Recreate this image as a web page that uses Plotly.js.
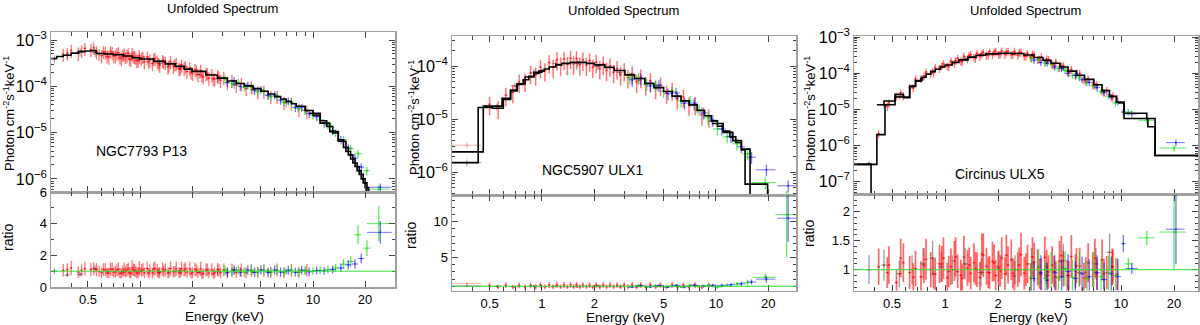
<!DOCTYPE html>
<html><head><meta charset="utf-8">
<script src="https://cdn.plot.ly/plotly-3.0.1.min.js"></script>
<style>html,body{margin:0;padding:0;background:#fff}#chart{width:1200px;height:325px}</style>
</head><body><div id="chart"></div>
<script>
// ---------------- tick labels ----------------
const xTickVals = [0.5, 1, 2, 5, 10, 20];
const xTickText = ['0.5', '1', '2', '5', '10', '20'];
const xMinorVals = [0.3, 0.4, 0.6, 0.7, 0.8, 0.9, 3, 4, 6, 7, 8, 9, 30];
const titles = ['Unfolded Spectrum', 'Unfolded Spectrum', 'Unfolded Spectrum'];
const sources = ['NGC7793 P13', 'NGC5907 ULX1', 'Circinus ULX5'];
const yTitleTop = 'Photon cm<sup>-2</sup>s<sup>-1</sup>keV<sup>-1</sup>';
const yTitleBottom = 'ratio';
const xTitle = 'Energy (keV)';
const p1RatioTicks = [0, 2, 4, 6];
const p2RatioTicks = [5, 10];
const p3RatioTicks = [1, 1.5, 2];

// ---------------- Panel 1 : NGC7793 P13 ----------------
const p1ModelE = [0.30,0.33,0.36,0.40,0.44,0.48,0.52,0.56,0.62,0.70,0.80,0.90,1.0,1.2,1.4,1.6,1.8,2.0,2.4,2.8,3.2,3.6,4.0,4.5,5.0,5.5,6.0,6.5,7.0,7.5,8.0,9.0,10,11,12,13,14,15,16,17,18,19,20,21];
const p1ModelF = [4.0e-4,4.4e-4,4.7e-4,5.2e-4,5.6e-4,5.8e-4,5.9e-4,5.1e-4,5.0e-4,4.8e-4,4.5e-4,4.15e-4,3.9e-4,3.45e-4,3.05e-4,2.7e-4,2.35e-4,2.1e-4,1.75e-4,1.5e-4,1.3e-4,1.15e-4,1.02e-4,8.9e-5,7.8e-5,6.8e-5,6.0e-5,5.3e-5,4.7e-5,4.2e-5,3.7e-5,3.0e-5,2.35e-5,1.8e-5,1.35e-5,9.8e-6,7.0e-6,4.8e-6,3.3e-6,2.2e-6,1.5e-6,1.0e-6,6.5e-7,4.5e-7];
const p1Model2E = [9.5,11,12.5,14,15.5,16.5,17.5,18.5,19.5,20.5];
const p1Model2F = [2.6e-5,1.6e-5,1.05e-5,6.5e-6,3.9e-6,2.7e-6,1.85e-6,1.25e-6,8.2e-7,4e-7];

const p1RedE = [0.36,0.40,0.44,0.48,0.52,0.56,0.60,0.63,0.66,0.69,0.72,0.75,0.78,0.81,0.84,0.87,0.90,0.93,0.96,0.99,1.02,1.06,1.10,1.14,1.18,1.22,1.26,1.30,1.35,1.40,1.45,1.50,1.56,1.62,1.68,1.74,1.80,1.87,1.94,2.01,2.08,2.16,2.24,2.32,2.41,2.50,2.60,2.70,2.81,2.92,3.05,3.2,3.4,3.6,3.85,4.1,4.4,4.8,5.2,5.7,6.2,6.8,7.5,8.3,9.2];
const p1RedF = [4.9e-4,6.0e-4,5.2e-4,6.6e-4,6.2e-4,5.6e-4,4.6e-4,5.5e-4,4.3e-4,5.4e-4,4.6e-4,5.3e-4,4.0e-4,5.0e-4,4.6e-4,3.9e-4,5.1e-4,4.4e-4,3.6e-4,4.6e-4,4.1e-4,3.4e-4,4.3e-4,3.7e-4,3.1e-4,4.0e-4,3.5e-4,2.9e-4,3.6e-4,3.3e-4,2.6e-4,3.4e-4,2.7e-4,3.1e-4,2.4e-4,2.9e-4,2.5e-4,2.1e-4,2.5e-4,1.9e-4,2.3e-4,1.8e-4,2.2e-4,1.6e-4,1.9e-4,1.5e-4,1.8e-4,1.45e-4,1.7e-4,1.35e-4,1.55e-4,1.2e-4,1.35e-4,1.05e-4,1.15e-4,9.0e-5,9.8e-5,7.6e-5,7.8e-5,6.0e-5,6.1e-5,4.5e-5,4.4e-5,3.2e-5,2.9e-5];
const p1RedR = [1.05,1.2,0.95,1.15,1.1,1.1,0.9,1.1,0.88,1.12,0.95,1.13,0.87,1.12,1.05,0.92,1.22,1.07,0.9,1.18,1.06,0.9,1.17,1.04,0.88,1.17,1.05,0.9,1.14,1.08,0.88,1.17,0.96,1.15,0.92,1.16,1.06,0.93,1.16,0.9,1.12,0.92,1.16,0.86,1.09,0.88,1.09,0.9,1.1,0.9,1.07,0.89,1.08,0.91,1.07,0.9,1.06,0.93,1.05,0.94,1.07,0.9,1.05,0.94,1.04];
const p1Red2E = [0.38,0.46,0.54,0.58,0.615,0.645,0.675,0.705,0.735,0.765,0.795,0.825,0.855,0.885,0.915,0.945,0.975,1.04,1.12,1.20,1.28,1.37,1.47,1.59,1.71,1.83,1.97,2.12,2.28,2.45,2.65,2.86];
const p1Red2F = [5.2e-4,5.9e-4,6.8e-4,5.0e-4,5.6e-4,4.4e-4,5.7e-4,4.5e-4,5.2e-4,4.2e-4,4.8e-4,4.3e-4,5.2e-4,3.8e-4,4.5e-4,4.1e-4,3.6e-4,4.3e-4,3.4e-4,3.9e-4,3.1e-4,3.4e-4,2.8e-4,3.0e-4,2.4e-4,2.7e-4,2.0e-4,2.2e-4,1.7e-4,1.9e-4,1.45e-4,1.6e-4];
const p1Red2R = [1.1,1.05,1.15,0.98,1.1,0.88,1.14,0.94,1.08,0.87,1.0,0.96,1.15,0.85,1.08,0.99,0.87,1.1,0.88,1.13,0.9,0.99,0.92,0.98,0.89,1.15,0.85,1.05,0.81,1.08,0.83,1.07];

const p1BlkE = [0.32,0.38,0.45,0.55,0.65,0.8,1.0,1.3,1.7,2.2,2.8,3.5,4.5,5.5,7,9];
const p1BlkF = [3.9e-4,4.7e-4,5.5e-4,5.4e-4,5.0e-4,4.4e-4,3.8e-4,3.1e-4,2.4e-4,1.8e-4,1.45e-4,1.1e-4,8.5e-5,6.5e-5,4.4e-5,3.0e-5];
const p1BlkR = [1.0,0.75,0.8,1.15,1.0,0.95,1.0,0.95,1.02,0.92,0.97,1.05,0.95,1.0,0.98,1.03];

const p1GrnE = [3.1,3.4,3.7,4.0,4.4,4.8,5.2,5.7,6.2,6.8,7.5,8.2,9.0,10,11,12.2,13.5,15,16.5,18.2,20.5,24];
const p1GrnF = [1.45e-4,1.15e-4,1.2e-4,9.5e-5,9.8e-5,7.8e-5,7.9e-5,6.0e-5,6.1e-5,4.6e-5,4.5e-5,3.3e-5,3.1e-5,2.4e-5,1.9e-5,1.45e-5,1.0e-5,7.0e-6,4.5e-6,3.5e-6,1.5e-6,6.0e-7];
const p1GrnR = [1.05,0.95,1.08,0.93,1.07,0.95,1.06,0.92,1.05,0.93,1.07,0.92,1.03,1.0,1.05,1.1,1.2,1.45,1.6,3.3,2.45,4.0];
const p1GrnRerr = [0.3,0.3,0.3,0.3,0.3,0.3,0.3,0.3,0.3,0.3,0.28,0.28,0.28,0.25,0.25,0.25,0.25,0.3,0.35,0.6,0.5,1.1];
const p1GrnXerr = [0.1,0.1,0.1,0.15,0.15,0.2,0.2,0.2,0.25,0.3,0.3,0.35,0.4,0.5,0.5,0.6,0.7,0.8,0.8,0.9,1.0,3.5];

const p1BluE = [3.2,3.5,3.8,4.2,4.6,5.0,5.5,6.0,6.5,7.2,7.9,8.6,9.5,10.5,11.6,13,14.5,16,17.5,19,24.5];
const p1BluF = [1.2e-4,1.3e-4,1.0e-4,1.05e-4,8.2e-5,8.4e-5,6.3e-5,6.5e-5,5.0e-5,4.8e-5,3.5e-5,3.5e-5,2.6e-5,2.2e-5,1.6e-5,1.1e-5,7e-6,4.6e-6,2.8e-6,1.8e-6,6.6e-7];
const p1BluR = [0.92,1.08,0.93,1.07,0.93,1.08,0.92,1.08,0.94,1.06,0.93,1.07,0.96,1.04,1.02,1.1,1.2,1.4,1.45,1.8,3.45];
const p1BluRerr = [0.3,0.3,0.3,0.3,0.3,0.3,0.3,0.3,0.3,0.28,0.28,0.28,0.28,0.25,0.25,0.25,0.25,0.3,0.3,0.3,0.7];
const p1BluXerr = [0.1,0.1,0.1,0.15,0.15,0.2,0.2,0.2,0.25,0.3,0.3,0.35,0.4,0.5,0.5,0.6,0.7,0.7,0.7,0.8,4.0];

// ---------------- Panel 2 : NGC5907 ULX1 ----------------
const p2ModelE = [0.30,0.46,0.59,0.66,0.72,0.78,0.84,0.90,0.96,1.03,1.1,1.2,1.3,1.45,1.6,1.8,2.0,2.3,2.6,3.0,3.4,3.9,4.4,5.0,5.6,6.3,7.0,7.8,8.6,9.4,10.2,11,12,13,14,14.7,19.8];
const p2ModelF = [2.4e-6,1.75e-5,2.45e-5,3.5e-5,4.5e-5,5.5e-5,6.4e-5,7.2e-5,8.0e-5,8.8e-5,9.6e-5,1.05e-4,1.12e-4,1.17e-4,1.17e-4,1.12e-4,1.05e-4,9.4e-5,8.2e-5,6.8e-5,5.8e-5,4.7e-5,3.9e-5,3.3e-5,2.7e-5,2.2e-5,1.85e-5,1.45e-5,1.15e-5,9.2e-6,7.3e-6,5.9e-6,4.6e-6,3.6e-6,2.6e-6,5.9e-7,2e-7];
const p2Model2E = [0.30,0.43,0.52,0.60,0.66,0.72,0.80,0.90,1.0,1.05,9.5,11,12.5,14,15.7];
const p2Model2F = [1.5e-6,1.65e-5,1.6e-5,2.35e-5,3.4e-5,4.6e-5,6.2e-5,7.6e-5,8.6e-5,null,8.2e-6,5.6e-6,3.9e-6,2.7e-6,2e-7];

const p2PinkE = [0.37];
const p2PinkF = [3.2e-6];
const p2PinkR = [1.38];
const p2PinkXerr = [0.08];

const p2RedE = [0.50,0.56,0.62,0.68,0.74,0.80,0.86,0.92,0.98,1.04,1.10,1.16,1.22,1.28,1.34,1.40,1.46,1.52,1.58,1.65,1.72,1.80,1.88,1.96,2.05,2.15,2.25,2.35,2.46,2.58,2.70,2.83,2.97,3.12,3.3,3.5,3.7,3.95,4.2,4.5,4.8,5.2,5.6,6.0,6.5,7.0,7.6,8.3,9.1];
const p2RedF = [1.9e-5,1.6e-5,2.8e-5,3.2e-5,5.0e-5,5.2e-5,7.3e-5,6.8e-5,9.5e-5,8.2e-5,1.15e-4,9.6e-5,1.32e-4,1.05e-4,1.35e-4,1.08e-4,1.4e-4,1.1e-4,1.38e-4,1.06e-4,1.3e-4,1.04e-4,1.25e-4,9.6e-5,1.18e-4,9.0e-5,1.1e-4,8.3e-5,1.0e-4,7.6e-5,9.0e-5,6.9e-5,8.2e-5,6.1e-5,7.2e-5,5.0e-5,6.2e-5,4.5e-5,5.3e-5,3.8e-5,4.4e-5,3.1e-5,3.5e-5,2.4e-5,2.6e-5,1.85e-5,1.9e-5,1.2e-5,1.1e-5];
const p2RedR = [1.1,0.9,1.15,0.9,1.1,0.93,1.12,0.92,1.16,0.92,1.18,0.92,1.2,0.93,1.18,0.93,1.2,0.94,1.19,0.92,1.15,0.94,1.16,0.91,1.16,0.92,1.17,0.92,1.16,0.93,1.15,0.93,1.17,0.92,1.18,0.88,1.17,0.92,1.18,0.93,1.16,0.91,1.17,0.92,1.13,0.93,1.15,0.92,1.1];

const p2BlkE = [0.37,0.55,0.7,0.9,1.2,1.6,2.1,2.8,3.6,4.6,6.0,7.8,9.5];
const p2BlkF = [1.5e-6,1.7e-5,4.2e-5,7.6e-5,1.12e-4,1.12e-4,9.8e-5,7.5e-5,5.4e-5,4.0e-5,2.6e-5,1.5e-5,9e-6];
const p2BlkR = [1.05,1.0,0.95,1.02,1.0,0.97,1.05,0.98,1.02,0.97,1.03,0.99,1.0];
const p2BlkXerr = [0.08,0.03,0.04,0.05,0.06,0.08,0.1,0.12,0.15,0.2,0.25,0.35,0.4];

const p2GrnE = [3.2,3.6,4.0,4.5,5.0,5.6,6.3,7.1,8.0,9.0,10.2,11.6,13.2,15.2,19.2,25.5];
const p2GrnF = [6.0e-5,5.9e-5,4.5e-5,4.4e-5,3.3e-5,3.3e-5,2.2e-5,2.2e-5,1.5e-5,1.05e-5,6.5e-6,4.6e-6,3.4e-6,2.2e-6,6.3e-7,3.5e-7];
const p2GrnR = [0.95,1.1,0.92,1.08,0.93,1.1,0.9,1.12,1.0,1.1,0.9,1.15,1.3,1.5,2.25,11];
const p2GrnRerr = [0.15,0.15,0.15,0.15,0.15,0.18,0.18,0.2,0.2,0.2,0.25,0.25,0.3,0.4,0.5,6];
const p2GrnXerr = [0.15,0.2,0.2,0.25,0.25,0.3,0.35,0.4,0.45,0.5,0.6,0.7,0.8,1.0,3.0,3.5];

const p2BluE = [3.3,3.7,4.2,4.7,5.3,5.9,6.6,7.5,8.5,9.6,10.8,12.2,14.0,16.0,19.5,26];
const p2BluF = [5.5e-5,5.8e-5,4.2e-5,4.3e-5,3.0e-5,3.1e-5,2.0e-5,2.0e-5,1.3e-5,9.5e-6,6.5e-6,4.7e-6,3.0e-6,1.9e-6,1.1e-6,5.5e-7];
const p2BluR = [0.9,1.08,0.92,1.1,0.9,1.12,0.92,1.15,1.0,1.15,1.1,1.2,1.35,1.6,2.0,10.5];
const p2BluRerr = [0.15,0.15,0.15,0.15,0.15,0.18,0.18,0.2,0.2,0.2,0.25,0.25,0.3,0.35,0.5,3.3];
const p2BluXerr = [0.15,0.2,0.2,0.25,0.25,0.3,0.35,0.4,0.45,0.5,0.6,0.7,0.8,1.0,2.5,3.5];

// ---------------- Panel 3 : Circinus ULX5 ----------------
const p3ModelE = [0.30,0.41,0.456,0.52,0.58,0.63,0.68,0.74,0.78,0.83,0.88,0.94,1.0,1.1,1.2,1.35,1.5,1.7,2.0,2.4,2.8,3.2,3.6,4.0,4.5,5.0,5.6,6.2,7.0,7.8,8.6,9.4,10.4,14.0,15.6,30];
const p3ModelF = [3e-7,2e-6,1.35e-5,2.6e-5,2.1e-5,4.4e-5,6.3e-5,7.8e-5,9.5e-5,1.1e-4,1.3e-4,1.5e-4,1.7e-4,2.0e-4,2.35e-4,2.8e-4,3.15e-4,3.45e-4,3.6e-4,3.55e-4,3.2e-4,2.75e-4,2.3e-4,1.9e-4,1.5e-4,1.15e-4,8.8e-5,6.8e-5,4.8e-5,3.3e-5,2.3e-5,1.6e-5,7.8e-6,5.6e-6,5.3e-7,5.3e-7];
const p3Model2E = [0.30,0.38,0.40,0.41,0.45,0.52,0.58,0.63,0.68,0.73,0.76,9.6,10.4,14.2,15.6,30];
const p3Model2F = [3e-7,1e-9,null,1.35e-5,1.7e-5,2.2e-5,2.2e-5,4.3e-5,6.0e-5,7.5e-5,null,1.5e-5,5.6e-6,3.3e-6,5.3e-7,5.3e-7];

const p3RedE = [0.42,0.48,0.53,0.58,0.63,0.68,0.73,0.78,0.83,0.88,0.93,0.98,1.03,1.08,1.13,1.18,1.23,1.28,1.34,1.40,1.46,1.52,1.58,1.65,1.72,1.79,1.86,1.94,2.02,2.10,2.19,2.28,2.38,2.48,2.59,2.70,2.82,2.94,3.07,3.21,3.36,3.52,3.69,3.87,4.06,4.26,4.47,4.70,4.95,5.22,5.51,5.82,6.15,6.5,6.9,7.3,7.8,8.3,8.9,9.5];
const p3RedF = [2.1e-6,1.5e-5,2.3e-5,2.4e-5,4.0e-5,7.0e-5,7.2e-5,1.08e-4,1.0e-4,1.45e-4,1.35e-4,1.85e-4,1.6e-4,2.2e-4,1.9e-4,2.6e-4,2.2e-4,2.95e-4,2.5e-4,3.3e-4,2.8e-4,3.6e-4,2.95e-4,3.8e-4,3.15e-4,3.95e-4,3.25e-4,4.1e-4,3.3e-4,4.15e-4,3.3e-4,4.1e-4,3.25e-4,4.05e-4,3.1e-4,3.85e-4,2.95e-4,3.6e-4,2.7e-4,3.25e-4,2.4e-4,2.85e-4,2.1e-4,2.45e-4,1.75e-4,2.05e-4,1.45e-4,1.65e-4,1.15e-4,1.3e-4,8.8e-5,9.8e-5,6.6e-5,7.2e-5,4.8e-5,5.0e-5,3.3e-5,3.4e-5,2.1e-5,2.0e-5];
const p3RedR = [1.05,1.08,0.78,1.12,0.95,1.02,0.88,1.18,1.0,0.92,1.1,1.2,0.86,1.05,1.15,0.97,0.9,1.22,1.03,0.94,1.12,1.0,0.87,1.25,1.06,0.95,1.14,0.9,1.02,1.2,0.93,1.08,1.17,0.89,1.0,1.26,0.94,1.1,0.85,1.13,1.04,0.92,1.21,0.96,1.08,0.88,1.15,1.02,0.9,1.23,0.97,1.06,0.86,1.12,1.0,0.93,1.17,0.95,1.05,0.92];
const p3Red2E = [0.47,0.56,0.66,0.76,0.86,0.96,1.05,1.15,1.25,1.37,1.49,1.62,1.76,1.90,2.06,2.23,2.43,2.64,2.88,3.14,3.44,3.78,4.16,4.58,5.05,5.58,6.3,7.1,8.0,9.0];
const p3Red2F = [1.2e-5,2.9e-5,3.9e-5,8.4e-5,1.02e-4,1.62e-4,1.55e-4,2.25e-4,2.1e-4,3.1e-4,2.6e-4,3.5e-4,3.2e-4,3.9e-4,3.4e-4,3.95e-4,3.3e-4,3.8e-4,3.0e-4,3.4e-4,2.45e-4,2.5e-4,1.65e-4,1.6e-4,1.05e-4,1.0e-4,6.0e-5,4.7e-5,2.9e-5,2.4e-5];
const p3Red2R = [0.95,1.2,0.87,1.07,0.93,1.1,0.97,1.22,0.85,1.08,1.02,1.27,0.95,1.12,0.98,1.25,0.94,1.08,1.0,1.22,0.93,1.05,0.97,1.24,0.9,1.07,0.95,1.2,0.93,1.05];

const p3BlkE = [0.37,0.45,0.55,0.65,0.75,0.85,0.95,1.1,1.3,1.6,2.0,2.5,3.1,3.8,4.7,5.8,7.2,8.6];
const p3BlkF = [3.2e-7,1.3e-5,2.2e-5,4.2e-5,7.5e-5,1.2e-4,1.5e-4,2.0e-4,2.6e-4,3.3e-4,3.5e-4,3.5e-4,2.9e-4,2.1e-4,1.4e-4,8.5e-5,4.6e-5,2.5e-5];
const p3BlkR = [1.0,1.08,0.93,1.0,1.1,1.2,1.05,1.0,1.1,0.95,1.05,1.0,1.1,0.9,1.15,0.95,1.1,1.3];

const p3GrnE = [3.1,3.4,3.7,4.0,4.4,4.8,5.3,5.8,6.4,7.0,7.7,8.5,9.3,11.0,14.0,20.0];
const p3GrnF = [2.5e-4,2.4e-4,1.9e-4,1.8e-4,1.35e-4,1.2e-4,8.8e-5,7.4e-5,5.5e-5,4.5e-5,3.1e-5,2.3e-5,1.5e-5,8.5e-6,5.0e-6,8.5e-7];
const p3GrnR = [0.88,1.05,0.85,1.0,0.86,1.02,0.87,1.0,0.85,1.0,0.88,0.95,0.9,1.1,1.55,1.65];
const p3GrnRerr = [0.3,0.3,0.3,0.3,0.3,0.3,0.3,0.3,0.3,0.3,0.3,0.3,0.3,0.1,0.12,0.65];
const p3GrnXerr = [0.1,0.1,0.1,0.15,0.15,0.2,0.2,0.25,0.25,0.3,0.35,0.35,0.4,0.6,1.5,3.5];

const p3BluE = [3.2,3.5,3.8,4.2,4.6,5.0,5.5,6.0,6.6,7.3,8.0,8.8,9.6,10.3,11.5,20.5];
const p3BluF = [2.3e-4,2.0e-4,1.9e-4,1.5e-4,1.35e-4,1.0e-4,8.8e-5,6.6e-5,5.6e-5,4.0e-5,3.0e-5,2.2e-5,1.6e-5,8.5e-6,7.5e-6,1.2e-6];
const p3BluR = [0.85,0.95,0.82,0.95,0.88,0.97,0.85,0.93,0.88,0.95,0.83,0.93,0.88,1.45,1.02,1.7];
const p3BluRerr = [0.3,0.3,0.3,0.3,0.3,0.3,0.3,0.3,0.3,0.3,0.3,0.3,0.3,0.15,0.1,0.6];
const p3BluXerr = [0.1,0.1,0.1,0.15,0.15,0.2,0.2,0.25,0.25,0.3,0.35,0.35,0.4,0.3,0.9,2.5];

// ---------------- styling ----------------
const FONT = 'Liberation Sans, Arial, Helvetica, sans-serif';
const RED = 'rgba(255,0,0,0.55)';
const RED3 = 'rgba(255,0,0,0.6)';
const BLK = 'rgba(30,30,30,0.45)';
const GRN = 'rgba(0,225,0,0.65)';
const BLU = 'rgba(0,0,255,0.55)';
const PINK = 'rgba(255,90,90,0.45)';

function errObj(e, col, th) {
  if (Array.isArray(e)) return {type: 'data', array: e, symmetric: true, color: col, thickness: th, width: 0};
  return {type: 'percent', value: e, color: col, thickness: th, width: 0};
}
function pts(E, V, xa, ya, col, yErr, xErr, th) {
  const t = th || 1;
  return {type: 'scatter', mode: 'markers', x: E, y: V, xaxis: xa, yaxis: ya,
    hoverinfo: 'skip', showlegend: false, cliponaxis: true,
    marker: {size: 2, color: col},
    error_y: errObj(yErr, col, t), error_x: errObj(xErr, col, 1)};
}
function model(E, F, xa, ya) {
  return {type: 'scatter', mode: 'lines', x: E, y: F, xaxis: xa, yaxis: ya,
    hoverinfo: 'skip', showlegend: false, connectgaps: false,
    line: {shape: 'hv', color: '#000', width: 1.6}};
}

const traces = [
  // panel 1 upper
  pts(p1BlkE, p1BlkF, 'x', 'y', BLK, 20, 4),
  pts(p1RedE, p1RedF, 'x', 'y', RED, 32, 2, 1.3),
  pts(p1Red2E, p1Red2F, 'x', 'y', RED, 30, 2, 1.3),
  pts(p1GrnE, p1GrnF, 'x', 'y', GRN, 20, p1GrnXerr, 1.3),
  pts(p1BluE, p1BluF, 'x', 'y', BLU, 20, p1BluXerr, 1.3),
  model(p1ModelE, p1ModelF, 'x', 'y'),
  model(p1Model2E, p1Model2F, 'x', 'y'),
  // panel 1 lower
  pts(p1BlkE, p1BlkR, 'x2', 'y2', BLK, 20, 4),
  pts(p1RedE, p1RedR, 'x2', 'y2', RED, 38, 2, 1.3),
  pts(p1Red2E, p1Red2R, 'x2', 'y2', RED, 36, 2, 1.3),
  pts(p1GrnE, p1GrnR, 'x2', 'y2', GRN, p1GrnRerr, p1GrnXerr, 1.3),
  pts(p1BluE, p1BluR, 'x2', 'y2', BLU, p1BluRerr, p1BluXerr, 1.3),
  // panel 2 upper
  pts(p2PinkE, p2PinkF, 'x3', 'y3', PINK, 15, p2PinkXerr),
  pts(p2BlkE, p2BlkF, 'x3', 'y3', BLK, 15, p2BlkXerr),
  pts(p2RedE, p2RedF, 'x3', 'y3', RED, 38, 2, 1.5),
  pts(p2GrnE, p2GrnF, 'x3', 'y3', GRN, 25, p2GrnXerr, 1.3),
  pts(p2BluE, p2BluF, 'x3', 'y3', BLU, 25, p2BluXerr, 1.3),
  model(p2ModelE, p2ModelF, 'x3', 'y3'),
  model(p2Model2E, p2Model2F, 'x3', 'y3'),
  // panel 2 lower
  pts(p2PinkE, p2PinkR, 'x4', 'y4', PINK, 12, p2PinkXerr),
  pts(p2BlkE, p2BlkR, 'x4', 'y4', BLK, 15, p2BlkXerr),
  pts(p2RedE, p2RedR, 'x4', 'y4', RED, 35, 2, 1.5),
  pts(p2GrnE, p2GrnR, 'x4', 'y4', GRN, p2GrnRerr, p2GrnXerr, 1.3),
  pts(p2BluE, p2BluR, 'x4', 'y4', BLU, p2BluRerr, p2BluXerr, 1.3),
  // panel 3 upper
  pts(p3BlkE, p3BlkF, 'x5', 'y5', BLK, 15, 4),
  pts(p3RedE, p3RedF, 'x5', 'y5', RED, 25, 2, 1.3),
  pts(p3Red2E, p3Red2F, 'x5', 'y5', RED, 25, 2, 1.3),
  pts(p3GrnE, p3GrnF, 'x5', 'y5', GRN, 20, p3GrnXerr, 1.3),
  pts(p3BluE, p3BluF, 'x5', 'y5', BLU, 20, p3BluXerr, 1.3),
  model(p3ModelE, p3ModelF, 'x5', 'y5'),
  model(p3Model2E, p3Model2F, 'x5', 'y5'),
  // panel 3 lower
  pts(p3BlkE, p3BlkR, 'x6', 'y6', BLK, 25, 4, 1.3),
  pts(p3RedE, p3RedR, 'x6', 'y6', RED3, 30, 2, 1.7),
  pts(p3Red2E, p3Red2R, 'x6', 'y6', RED3, 28, 2, 1.7),
  pts(p3GrnE, p3GrnR, 'x6', 'y6', GRN, p3GrnRerr, p3GrnXerr, 1.3),
  pts(p3BluE, p3BluR, 'x6', 'y6', BLU, p3BluRerr, p3BluXerr, 1.3)
];

// ---------------- layout ----------------
const W = 1200, H = 325;
const px = v => v / W;
const py = v => 1 - v / H;

const axBase = {
  showline: true, linecolor: '#a0a0a0', linewidth: 1.5, mirror: 'allticks',
  ticks: 'inside', tickcolor: '#444', ticklen: 6, tickwidth: 1,
  showgrid: false, zeroline: false, fixedrange: true,
  tickfont: {family: FONT, size: 13, color: '#000'}
};
function xAx(dom, rng, anchor, labels) {
  return Object.assign({}, axBase, {
    type: 'log', domain: dom, range: rng, anchor: anchor,
    tickmode: 'array', tickvals: xTickVals, ticktext: xTickText,
    showticklabels: labels,
    minor: {tickmode: 'array', tickvals: xMinorVals, ticklen: 4, tickcolor: '#444', ticks: 'inside'}
  });
}
function yLog(dom, rng, anchor) {
  return Object.assign({}, axBase, {
    type: 'log', domain: dom, range: rng, anchor: anchor,
    dtick: 1, exponentformat: 'power',
    minor: {dtick: 'D1', ticklen: 3, tickcolor: '#444', ticks: 'inside'}
  });
}
function yLin(dom, rng, anchor, tv, minorStep) {
  return Object.assign({}, axBase, {
    domain: dom, range: rng, anchor: anchor,
    tickmode: 'array', tickvals: tv,
    minor: {dtick: minorStep, ticklen: 3, tickcolor: '#444', ticks: 'inside'}
  });
}

const xd1 = [px(51), px(395)], xd2 = [px(452), px(796)], xd3 = [px(854), px(1198)];

function ann(text, x, y, size, angle) {
  return {text: text, x: px(x), y: py(y), xref: 'paper', yref: 'paper',
    showarrow: false, xanchor: 'center', yanchor: 'middle', textangle: angle || 0,
    font: {family: FONT, size: size, color: '#000'}};
}

const layout = {
  width: W, height: H, margin: {l: 0, r: 0, t: 0, b: 0},
  paper_bgcolor: '#fff', plot_bgcolor: '#fff', showlegend: false,
  font: {family: FONT, size: 13, color: '#000'},
  xaxis:  xAx(xd1, [-0.5145, 1.474], 'y', false),
  xaxis2: xAx(xd1, [-0.5145, 1.474], 'y2', true),
  xaxis3: xAx(xd2, [-0.517, 1.46], 'y3', false),
  xaxis4: xAx(xd2, [-0.517, 1.46], 'y4', true),
  xaxis5: xAx(xd3, [-0.517, 1.437], 'y5', false),
  xaxis6: xAx(xd3, [-0.517, 1.437], 'y6', true),
  yaxis:  yLog([py(192), py(32)], [-6.283, -2.827], 'x'),
  yaxis2: yLin([py(287), py(192)], [0, 6], 'x2', p1RatioTicks, 1),
  yaxis3: yLog([py(195), py(36)], [-6.434, -3.434], 'x3'),
  yaxis4: yLin([py(290.5), py(195)], [0.41, 13.74], 'x4', p2RatioTicks, 1),
  yaxis5: yLog([py(194.7), py(36)], [-7.363, -2.967], 'x5'),
  yaxis6: yLin([py(290.5), py(194.7)], [0.641, 2.295], 'x6', p3RatioTicks, 0.1),
  shapes: [
    {type: 'line', xref: 'x2 domain', x0: 0, x1: 1, yref: 'y2', y0: 1, y1: 1, line: {color: '#33dd33', width: 1}},
    {type: 'line', xref: 'x4 domain', x0: 0, x1: 1, yref: 'y4', y0: 1, y1: 1, line: {color: '#33dd33', width: 1}},
    {type: 'line', xref: 'x6 domain', x0: 0, x1: 1, yref: 'y6', y0: 1, y1: 1, line: {color: '#33dd33', width: 1}}
  ],
  annotations: [
    ann(titles[0], 222, 9, 13), ann(titles[1], 623, 10, 13), ann(titles[2], 1025, 10, 13),
    ann(sources[0], 141, 151, 14), ann(sources[1], 592, 170, 14), ann(sources[2], 1000, 174, 14),
    ann(yTitleTop, 9, 114, 13, -90), ann(yTitleTop, 414, 117, 13, -90), ann(yTitleTop, 810, 114, 13, -90),
    ann(yTitleBottom, 8, 238, 14, -90), ann(yTitleBottom, 411, 236, 14, -90), ann(yTitleBottom, 809, 234, 14, -90),
    ann(xTitle, 224, 316, 13.5), ann(xTitle, 625, 317, 13.5), ann(xTitle, 1028, 317, 13.5)
  ]
};

Plotly.newPlot('chart', traces, layout, {staticPlot: true, displayModeBar: false});
</script></body></html>
